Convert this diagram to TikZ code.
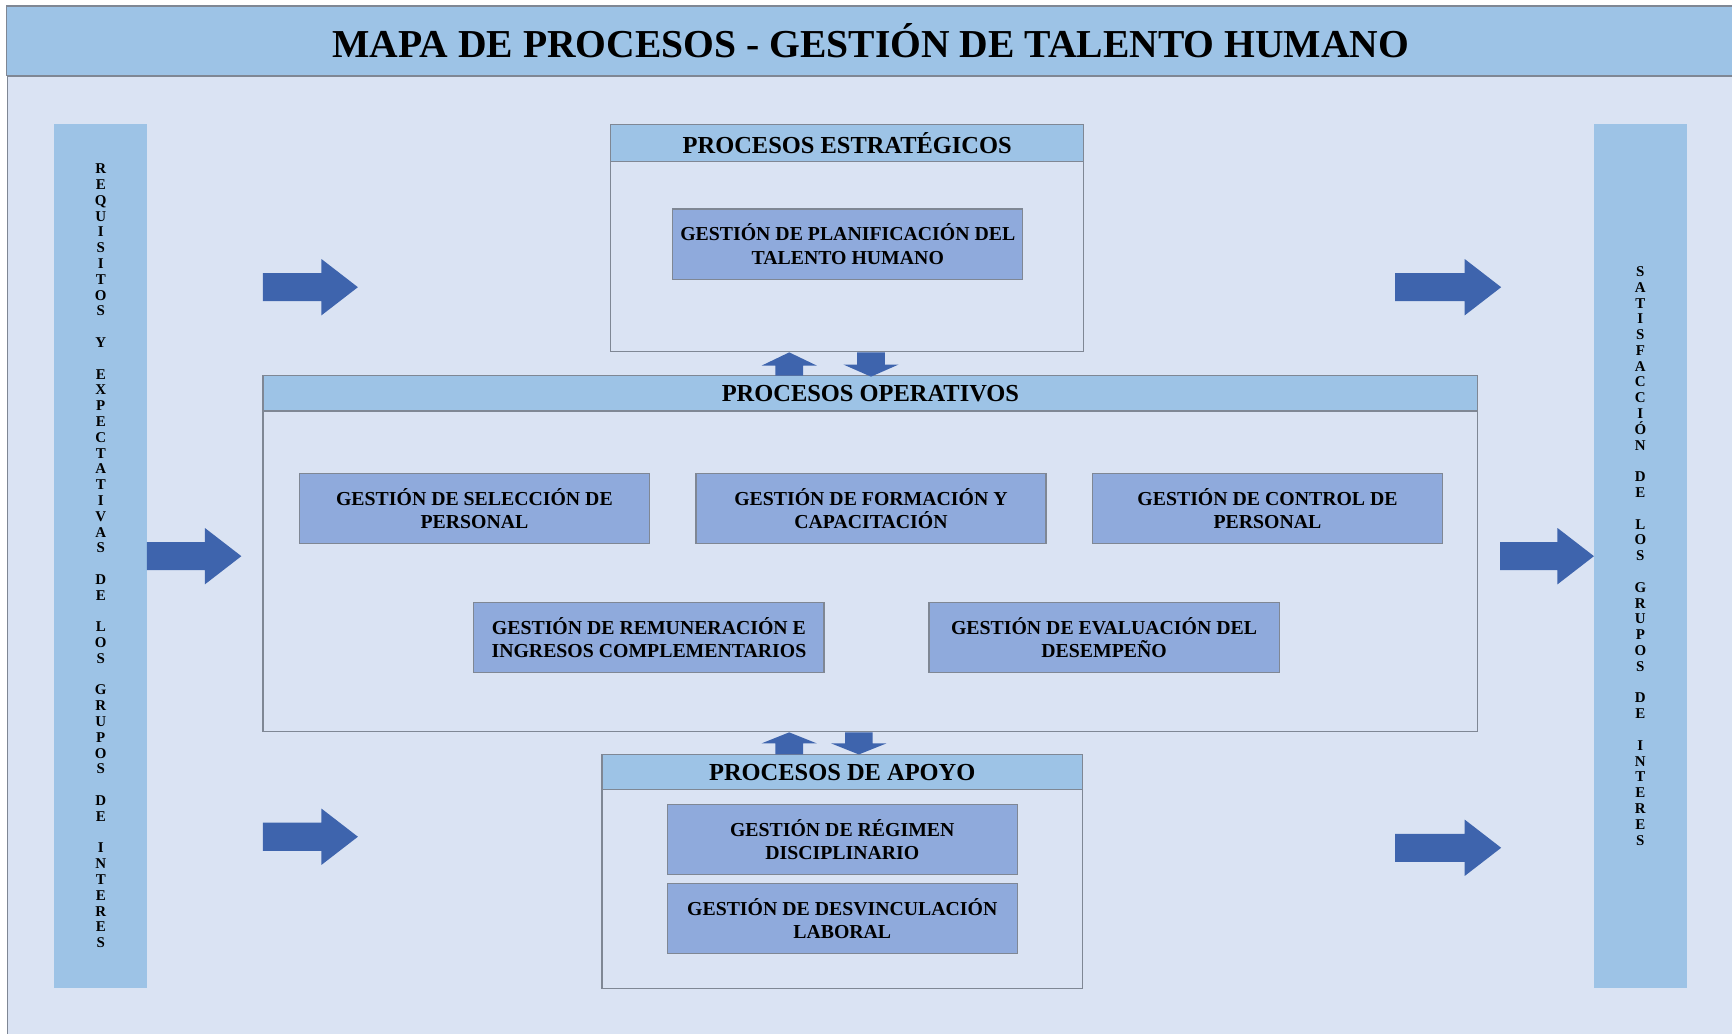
\documentclass[tikz,border=0pt]{standalone}
\usepackage{fontspec}
\setmainfont{Liberation Serif}
\definecolor{bandblue}{HTML}{9DC3E6}
\definecolor{paleblue}{HTML}{DAE3F3}
\definecolor{boxblue}{HTML}{8FAADC}
\definecolor{arrowblue}{HTML}{3E64AD}
\definecolor{framegray}{HTML}{7F8794}
\usetikzlibrary{positioning}

\begin{document}
\begin{tikzpicture}[x=0.02cm,y=-0.02cm,
  band/.style={fill=bandblue,draw=framegray,line width=0.6pt},
  frame/.style={fill=paleblue,draw=framegray,line width=0.6pt},
  header/.style={fill=bandblue,draw=framegray,line width=0.6pt,inner sep=0pt,font=\fontsize{12.6}{14}\selectfont\bfseries},
  procbox/.style={fill=boxblue,draw=framegray,line width=0.6pt,minimum width=6.34cm,minimum height=1.27cm,inner sep=0pt,align=center,font=\fontsize{10.2}{12}\selectfont\bfseries},
  sidebar/.style={fill=bandblue,minimum width=1.69cm,minimum height=15.65cm,inner sep=0pt},
  sidetext/.style={align=center,inner sep=0pt,font=\fontsize{7.7}{8.14}\selectfont\bfseries},
  bigarrow/.style={fill=arrowblue}]
  \useasboundingbox (0,0) rectangle (1568,936);
  \filldraw[fill=paleblue,draw=framegray,line width=0.6pt] (7,69) rectangle (1575,945);
  \node[band,minimum width=31.3cm,minimum height=1.26cm,font=\fontsize{20.4}{24}\selectfont\bfseries] (title) at (788.5,37) {MAPA DE PROCESOS - GESTIÓN DE TALENTO HUMANO};

  % side bars
  \node[sidebar] (reqbar) at (91.25,503.25) {};
  \node[sidebar] (satbar) at (1485,503.25) {};
  \node[sidetext] (reqtxt) at (reqbar) {R\\E\\Q\\U\\I\\S\\I\\T\\O\\S\\~\\Y\\~\\E\\X\\P\\E\\C\\T\\A\\T\\I\\V\\A\\S\\~\\D\\E\\~\\L\\O\\S\\~\\G\\R\\U\\P\\O\\S\\~\\D\\E\\~\\I\\N\\T\\E\\R\\E\\S};
  \node[sidetext] (sattxt) at (satbar) {S\\A\\T\\I\\S\\F\\A\\C\\C\\I\\Ó\\N\\~\\D\\E\\~\\L\\O\\S\\~\\G\\R\\U\\P\\O\\S\\~\\D\\E\\~\\I\\N\\T\\E\\R\\E\\S};

  % block arrows
  \foreach \xa/\xb/\yc in {238/324/260, 133/218.5/503.5, 238/324/757.5,
                           1263/1359/260, 1358/1443/503.5, 1263/1359/767.5} {
    \fill[bigarrow] (\xa,\yc-12.7) -- (\xb-33,\yc-12.7) -- (\xb-33,\yc-25.5) -- (\xb,\yc)
      -- (\xb-33,\yc+25.5) -- (\xb-33,\yc+12.7) -- (\xa,\yc+12.7) -- cycle;
  }

  % estrategicos
  \node[frame,minimum width=8.56cm,minimum height=4.1cm] (estr) at (767,215.5) {};
  \node[header,minimum width=8.56cm,minimum height=0.66cm,anchor=north] (estrh) at (estr.north) {PROCESOS ESTRATÉGICOS};
  \node[procbox] (planif) at (767.5,221) {GESTIÓN DE PLANIFICACIÓN DEL\\TALENTO HUMANO};

  % operativos
  \node[frame,minimum width=22cm,minimum height=6.44cm] (oper) at (788,501) {};
  \node[header,minimum width=22cm,minimum height=0.64cm,anchor=north] (operh) at (oper.north) {PROCESOS OPERATIVOS};
  \foreach \nm/\x/\y/\txt in {
    sel/429.5/460.5/{GESTIÓN DE SELECCIÓN DE\\PERSONAL},
    form/788.5/460.5/{GESTIÓN DE FORMACIÓN Y\\CAPACITACIÓN},
    ctrl/1147.5/460.5/{GESTIÓN DE CONTROL DE\\PERSONAL},
    remu/587.5/577/{GESTIÓN DE REMUNERACIÓN E\\INGRESOS COMPLEMENTARIOS},
    eval/999.5/577/{GESTIÓN DE EVALUACIÓN DEL\\DESEMPEÑO}} {
    \node[procbox] (\nm) at (\x,\y) {\txt};
  }

  % apoyo
  \node[frame,minimum width=8.7cm,minimum height=4.24cm] (apoyo) at (762.5,789) {};
  \node[header,minimum width=8.7cm,minimum height=0.64cm,anchor=north] (apoyoh) at (apoyo.north) {PROCESOS DE APOYO};
  \node[procbox] (regim) at (762.5,760) {GESTIÓN DE RÉGIMEN\\DISCIPLINARIO};
  \node[procbox] (desv) at (762.5,831.5) {GESTIÓN DE DESVINCULACIÓN\\LABORAL};

  % small arrows between blocks
  \foreach \xc/\ya/\yh/\yb in {714.5/340/331/319, 788.5/319/330/341,
                               714.5/683/673/663, 777.5/663/673/683} {
    \fill[bigarrow] (\xc-12.5,\ya) -- (\xc-12.5,\yh) -- (\xc-25,\yh) -- (\xc,\yb)
      -- (\xc+25,\yh) -- (\xc+12.5,\yh) -- (\xc+12.5,\ya) -- cycle;
  }
\end{tikzpicture}
\end{document}
